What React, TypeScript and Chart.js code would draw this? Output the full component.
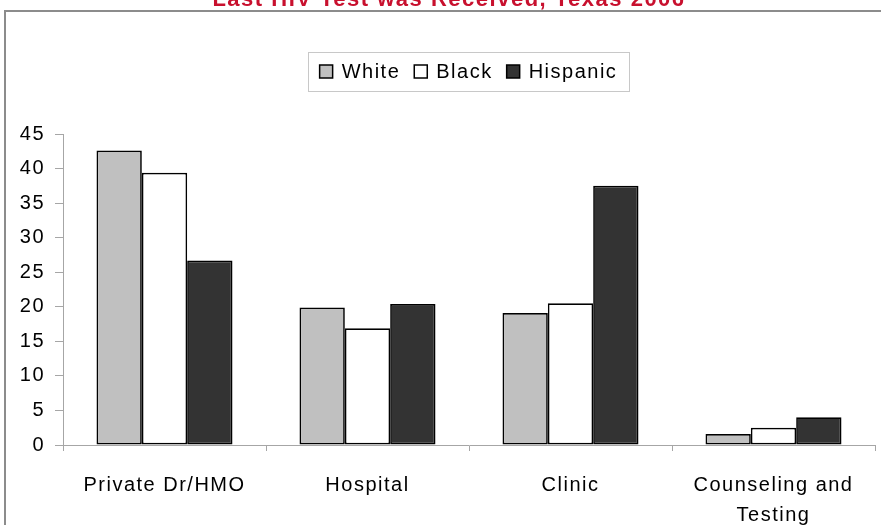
import React, { useEffect, useRef } from "react";
import { Chart, registerables } from "chart.js";

Chart.register(...registerables);

const TITLE = "Last HIV Test was Received, Texas 2006";
const categories: (string | string[])[] = ["Private Dr/HMO", "Hospital", "Clinic", ["Counseling and", "Testing"]];
const seriesNames = ["White", "Black", "Hispanic"];
const whiteValues = [42.6, 19.9, 19.1, 1.6];
const blackValues = [39.4, 16.9, 20.5, 2.5];
const hispanicValues = [26.7, 20.4, 37.5, 4.0];
const seriesColors = ["#c0c0c0", "#ffffff", "#333333"];
const yMin = 0;
const yMax = 45;
const yStep = 5;

const FONT = '"Liberation Sans", Arial, sans-serif';
const SPACING = "1.5px";
const FONT_SIZE = 20;

const decor = {
  id: "decor",
  beforeUpdate(chart: any) {
    chart.ctx.letterSpacing = SPACING;
  },
  beforeDraw(chart: any) {
    const ctx = chart.ctx as CanvasRenderingContext2D;
    ctx.save();
    // outer frame
    ctx.strokeStyle = "#8c8c8c";
    ctx.lineWidth = 2;
    ctx.beginPath();
    ctx.moveTo(5, 530);
    ctx.lineTo(5, 11);
    ctx.lineTo(890, 11);
    ctx.stroke();
    // title (partially clipped at top)
    (ctx as any).letterSpacing = "1.5px";
    ctx.font = `bold 22px ${FONT}`;
    ctx.fillStyle = "#c8102e";
    ctx.textAlign = "center";
    ctx.textBaseline = "alphabetic";
    ctx.fillText(TITLE, 449, 6);
    // legend
    (ctx as any).letterSpacing = SPACING;
    ctx.font = `${FONT_SIZE}px ${FONT}`;
    const bx = 308, by = 52, bw = 321, bh = 39;
    ctx.strokeStyle = "#c8c8c8";
    ctx.lineWidth = 1;
    ctx.strokeRect(bx + 0.5, by + 0.5, bw, bh);
    const ds = chart.data.datasets;
    const sq = 13, gap = 9, itemGap = 14;
    const widths = ds.map((d: any) => ctx.measureText(d.label).width);
    const total = widths.reduce((a: number, b: number) => a + b, 0) + ds.length * (sq + gap) + (ds.length - 1) * itemGap;
    let x = bx + (bw - total) / 2;
    const cy = by + bh / 2 + 1;
    ctx.textAlign = "left";
    ctx.textBaseline = "middle";
    ds.forEach((d: any, i: number) => {
      ctx.fillStyle = d.backgroundColor;
      ctx.fillRect(x, cy - sq / 2 - 1, sq, sq);
      ctx.strokeStyle = "#000";
      ctx.lineWidth = 1.5;
      ctx.strokeRect(x, cy - sq / 2 - 1, sq, sq);
      ctx.fillStyle = "#000";
      ctx.fillText(d.label, x + sq + gap, cy);
      x += sq + gap + widths[i] + itemGap;
    });
    ctx.restore();
    ctx.letterSpacing = SPACING;
  },
};

export default function App() {
  const ref = useRef<HTMLCanvasElement | null>(null);
  useEffect(() => {
    if (!ref.current) return;
    const values = [whiteValues, blackValues, hispanicValues];
    const chart = new Chart(ref.current, {
      type: "bar",
      data: {
        labels: categories as any,
        datasets: seriesNames.map((name, i) => ({
          label: name,
          data: values[i],
          backgroundColor: seriesColors[i],
          borderColor: "#000000",
          borderWidth: 1.7,
          borderSkipped: false,
          barPercentage: 1,
          categoryPercentage: 0.67,
        })),
      },
      options: {
        responsive: false,
        animation: false,
        layout: { padding: { top: 134, right: 6, left: 0, bottom: 0 } },
        plugins: {
          legend: { display: false },
          title: { display: false },
          tooltip: { enabled: false },
        },
        scales: {
          x: {
            afterFit: (s: any) => {
              s.height = 80;
            },
            grid: {
              display: true,
              drawOnChartArea: false,
              drawTicks: true,
              tickLength: 6,
              color: "#a6a6a6",
              offset: true,
            },
            border: { display: true, color: "#a6a6a6", width: 1 },
            ticks: {
              color: "#000",
              padding: 19,
              maxRotation: 0,
              autoSkip: false,
              font: { family: FONT, size: FONT_SIZE, lineHeight: 1.52 },
            },
          },
          y: {
            min: yMin,
            max: yMax,
            afterFit: (s: any) => {
              s.width = 63;
            },
            grid: {
              display: true,
              drawOnChartArea: false,
              drawTicks: true,
              tickLength: 8,
              color: "#a6a6a6",
            },
            border: { display: true, color: "#a6a6a6", width: 1 },
            ticks: {
              stepSize: yStep,
              color: "#000",
              padding: 10,
              font: { family: FONT, size: FONT_SIZE },
            },
          },
        },
      },
      plugins: [decor],
    });
    return () => chart.destroy();
  }, []);
  return (
    <div style={{ position: "absolute", left: 0, top: 0, width: 881, height: 525, overflow: "hidden", background: "#fff" }}>
      <canvas ref={ref} width={881} height={525} style={{ display: "block" }} />
    </div>
  );
}
